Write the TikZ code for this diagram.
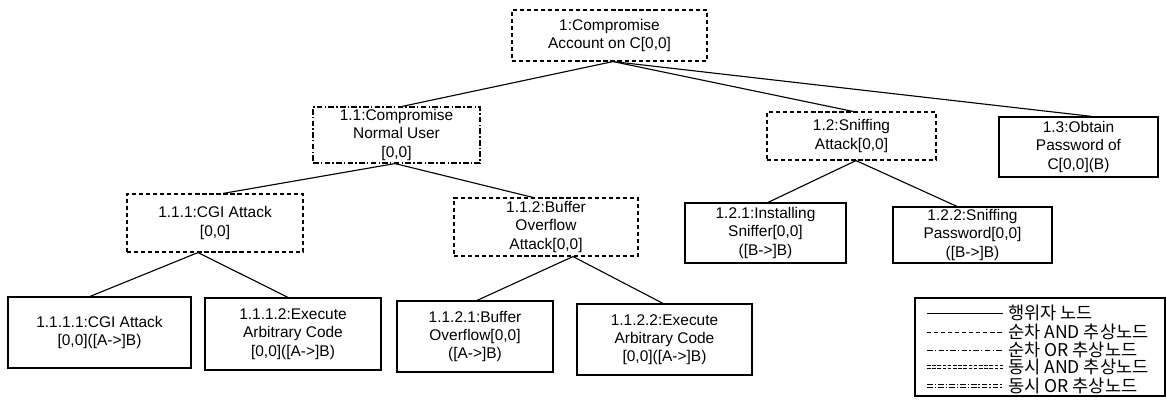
\documentclass[tikz,border=0pt]{standalone}
\usepackage{fontspec}
\setmainfont{Liberation Sans}
\newfontfamily\korfont{Noto Sans CJK KR}
\usetikzlibrary{calc}
\tikzset{
  box/.style 2 args={draw, line width=0.8pt, align=center, inner sep=1pt,
    font=\fontsize{11}{13}\selectfont,
    minimum width=#1*0.025cm, minimum height=#2*0.025cm},
  actor/.style={solid},
  seqand/.style={dash pattern=on 3pt off 2pt},
  seqor/.style={dash pattern=on 4pt off 1.6pt on 1pt off 1.6pt},
  parand/.style={line width=0.5pt, dash pattern=on 2.5pt off 1.2pt},
  paror/.style={line width=0.5pt, dash pattern=on 4pt off 1.4pt on 1pt off 1.4pt},
  edge/.style={draw, line width=0.8pt},
  legtext/.style={anchor=west, inner sep=0pt, font=\korfont\fontsize{12.5}{13}\selectfont}
}
\begin{document}
\begin{tikzpicture}[x=0.025cm,y=-0.025cm]
\useasboundingbox (0,0) rectangle (1166,400);
% goal and sub-goals
\node[box={195}{51}, seqand] (n1) at (609.5,35.5) {1:Compromise\\Account on C[0,0]};
\node[box={167}{56}, seqor] (n11) at (396.5,135) {1.1:Compromise\\Normal User\\{[0,0]}};
\node[box={169}{48}, seqand] (n12) at (851.5,136) {1.2:Sniffing\\Attack[0,0]};
\node[box={159}{60}, actor] (n13) at (1078.5,147) {1.3:Obtain\\Password of\\C[0,0](B)};
\node[box={176}{58}, seqand] (n111) at (215,223) {1.1.1:CGI Attack\\{[0,0]}};
\node[box={184}{58}, seqand] (n112) at (546,227) {1.1.2:Buffer\\Overflow\\Attack[0,0]};
\node[box={161}{60}, actor] (n121) at (765.5,233) {1.2.1:Installing\\Sniffer[0,0]\\([B->]B)};
\node[box={159}{56}, actor] (n122) at (972.5,235) {1.2.2:Sniffing\\Password[0,0]\\([B->]B)};
% leaves
\node[box={183}{71}, actor] (n1111) at (99.5,332.5) {1.1.1.1:CGI Attack\\{[0,0]}([A->]B)};
\node[box={176}{72}, actor] (n1112) at (293,334) {1.1.1.2:Execute\\Arbitrary Code\\{[0,0]}([A->]B)};
\node[box={156}{71}, actor] (n1121) at (475,336.5) {1.1.2.1:Buffer\\Overflow[0,0]\\([A->]B)};
\node[box={175}{71}, actor] (n1122) at (664.5,339.5) {1.1.2.2:Execute\\Arbitrary Code\\{[0,0]}([A->]B)};
% edges
\path[edge] ($(n1.south)+(3.5,0)$) -- ($(n11.north)+(5.5,0)$);
\path[edge] ($(n1.south)+(3.5,0)$) -- ($(n12.north)+(1.5,0)$);
\path[edge] ($(n1.south)+(3.5,0)$) -- ($(n13.north)+(13.5,0)$);
\path[edge] ($(n11.south)+(-1.5,0)$) -- ($(n111.north)+(8,0)$);
\path[edge] ($(n11.south)+(-1.5,0)$) -- ($(n112.north)+(-13,0)$);
\path[edge] ($(n111.south)+(-17,0)$) -- ($(n1111.north)+(-9.5,0)$);
\path[edge] ($(n111.south)+(-17,0)$) -- ($(n1112.north)+(-5,0)$);
\path[edge] ($(n112.south)+(27,0)$) -- ($(n1121.north)+(2,0)$);
\path[edge] ($(n112.south)+(27,0)$) -- ($(n1122.north)+(-1.5,0)$);
\path[edge] ($(n12.south)+(4.5,0)$) -- ($(n121.north)+(2.5,0)$);
\path[edge] ($(n12.south)+(4.5,0)$) -- ($(n122.north)+(-15.5,0)$);
% legend
\draw[line width=0.8pt] (915,298) rectangle (1165,396);
\draw[actor, line width=0.6pt] (927,313) -- (1003,313);
\draw[seqand, line width=0.6pt] (927,332) -- (1003,332);
\draw[seqor, line width=0.6pt] (927,350) -- (1003,350);
\foreach \dy in {-1.3,1.3} {
  \draw[parand] (927,367+\dy) -- (1003,367+\dy);
  \draw[paror] (927,386+\dy) -- (1003,386+\dy);
}
\node[legtext] (l1) at (1008,313) {행위자 노드};
\node[legtext] (l2) at (1008,332) {순차 AND 추상노드};
\node[legtext] (l3) at (1008,350) {순차 OR 추상노드};
\node[legtext] (l4) at (1008,367) {동시 AND 추상노드};
\node[legtext] (l5) at (1008,386) {동시 OR 추상노드};
\end{tikzpicture}
\end{document}
